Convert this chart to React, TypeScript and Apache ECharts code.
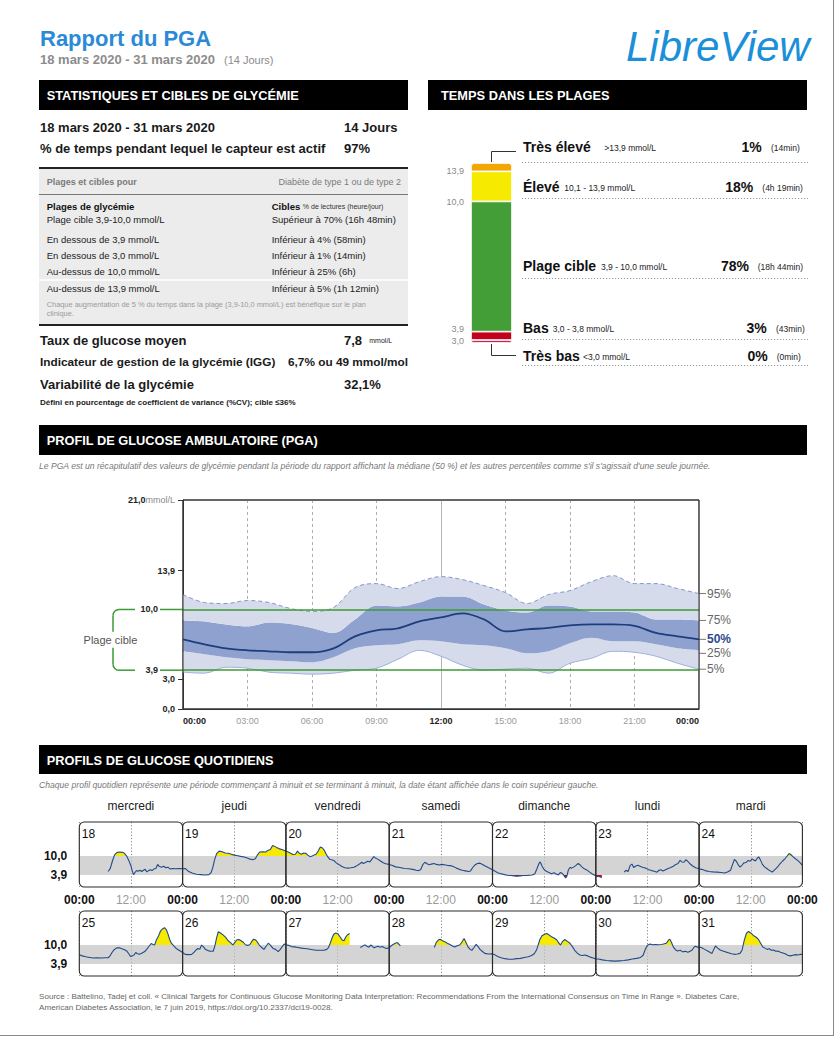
import React, { useEffect, useRef } from 'react';
import * as echarts from 'echarts';

type Pt = [number, number | null];
const FF = '"Liberation Sans", Arial, Helvetica, sans-serif';

// ================= DATA =================
const reportTitle = 'Rapport du PGA';
const reportPeriod = '18 mars 2020 - 31 mars 2020';
const reportDays = '14 Jours';
const sensorActive = '97%';

const statRows: [string, string][] = [
  ['Plage cible 3,9-10,0 mmol/L', 'Supérieur à 70% (16h 48min)'],
  ['En dessous de 3,9 mmol/L', 'Inférieur à 4% (58min)'],
  ['En dessous de 3,0 mmol/L', 'Inférieur à 1% (14min)'],
  ['Au-dessus de 10,0 mmol/L', 'Inférieur à 25% (6h)'],
  ['Au-dessus de 13,9 mmol/L', 'Inférieur à 5% (1h 12min)'],
];
const meanGlucose = '7,8';
const gmiValue = '6,7% ou 49 mmol/mol';
const cvValue = '32,1%';

// Time in ranges (bottom -> top)
const tirNames = ['Très bas', 'Bas', 'Plage cible', 'Élevé', 'Très élevé'];
const tirRanges = ['<3,0 mmol/L', '3,0 - 3,8 mmol/L', '3,9 - 10,0 mmol/L', '10,1 - 13,9 mmol/L', '>13,9 mmol/L'];
const tirPercent = [0, 3, 78, 18, 1];
const tirDurations = ['(0min)', '(43min)', '(18h 44min)', '(4h 19min)', '(14min)'];
const tirBounds = ['3,0', '3,9', '10,0', '13,9', ''];

// AGP percentiles (mmol/L) per hour
const agpHours = [0, 1, 2, 3, 4, 5, 6, 7, 8, 9, 10, 11, 12, 13, 14, 15, 16, 17, 18, 19, 20, 21, 22, 23, 24];
const agpP95 = [11.5, 10.7, 10.6, 10.9, 10.7, 10.1, 9.8, 10.2, 12.2, 12.6, 12.1, 12.8, 13.3, 13.0, 12.4, 11.7, 10.6, 11.5, 11.9, 12.8, 13.4, 12.6, 12.6, 12.1, 11.6];
const agpP75 = [8.9, 8.8, 8.5, 8.3, 8.7, 8.55, 8.15, 7.65, 9.0, 10.4, 10.3, 10.7, 11.3, 11.3, 10.5, 9.9, 9.7, 10.4, 10.3, 9.8, 9.8, 9.7, 9.0, 9.0, 8.9];
const agpP50 = [7.0, 6.5, 6.1, 5.9, 5.8, 5.7, 5.7, 6.1, 7.3, 7.9, 8.1, 8.8, 9.2, 9.6, 9.0, 7.8, 8.0, 8.15, 8.4, 8.5, 8.5, 8.35, 7.65, 7.3, 7.0];
const agpP25 = [5.8, 5.5, 5.2, 5.0, 4.9, 4.8, 4.7, 5.2, 6.1, 6.4, 6.5, 6.9, 6.8, 6.5, 6.4, 6.1, 5.6, 5.8, 6.6, 7.15, 6.8, 6.8, 6.5, 6.1, 5.9];
const agpP5 = [3.7, 3.6, 4.2, 4.1, 3.7, 3.6, 3.5, 3.6, 3.9, 4.1, 5.0, 5.9, 5.3, 4.4, 3.9, 4.0, 4.1, 3.6, 4.6, 5.1, 5.8, 5.7, 5.3, 4.6, 4.0];
const agpYTicks = [0, 3, 13.9, 21];
const targetLow = 3.9;
const targetHigh = 10;
const yMax = 21;

// Daily profiles
const weekDayNames = ['mercredi', 'jeudi', 'vendredi', 'samedi', 'dimanche', 'lundi', 'mardi'];
const dayNumbers1 = ['18', '19', '20', '21', '22', '23', '24'];
const dayNumbers2 = ['25', '26', '27', '28', '29', '30', '31'];

const day18: Pt[] = [[6.7, 5.0], [7.2, 6.0], [7.7, 8.4], [8.2, 10.4], [8.7, 11.1], [9.3, 11.3], [10.0, 11.2], [10.5, 10.9], [11.0, 10.0], [11.5, 8.6], [12.0, 6.8], [12.3, 5.2], [12.6, 4.0], [12.9, 4.6], [13.3, 5.3], [13.7, 5.1], [14.1, 5.4], [14.5, 5.0], [14.9, 5.4], [15.3, 5.7], [15.7, 4.9], [16.1, 5.3], [16.5, 5.6], [16.9, 5.3], [17.3, 5.8], [17.8, 6.0], [18.2, 7.3], [18.6, 6.6], [19.1, 6.4], [19.6, 6.7], [20.1, 6.2], [20.6, 6.4], [21.1, 5.8], [21.6, 6.0], [22.3, 5.9], [23.2, 6.0], [24, 5.9]];
const day19: Pt[] = [[0, 5.9], [0.6, 6.0], [1.3, 5.1], [2.2, 4.5], [3.2, 4.1], [4.2, 4.0], [5.2, 3.9], [6.1, 4.0], [6.6, 4.6], [7.0, 6.2], [7.4, 8.6], [7.9, 10.8], [8.5, 11.6], [9.2, 11.4], [9.9, 11.0], [10.6, 10.9], [11.3, 10.6], [12, 10.3], [12.8, 10.1], [13.5, 9.9], [14.3, 9.7], [15.0, 9.4], [15.7, 9.0], [16.3, 8.8], [16.9, 9.1], [17.4, 10.4], [17.9, 11.3], [18.6, 11.4], [19.3, 11.3], [19.9, 11.9], [20.4, 12.1], [20.9, 13.4], [21.3, 13.2], [21.8, 12.8], [22.4, 12.4], [23.2, 12.0], [24, 11.6]];
const day20: Pt[] = [[0, 11.6], [0.4, 11.4], [1.0, 11.0], [1.6, 10.5], [2.2, 10.6], [2.7, 11.6], [3.1, 10.9], [3.6, 10.6], [4.1, 11.0], [4.6, 10.9], [5.1, 10.3], [5.6, 9.8], [6.1, 10.0], [6.5, 10.3], [7.0, 10.6], [7.5, 11.6], [8.0, 12.9], [8.5, 12.6], [8.9, 11.9], [9.3, 10.8], [9.7, 9.8], [10.2, 8.9], [10.7, 8.8], [11.2, 8.5], [11.7, 7.8], [12.3, 7.3], [13.0, 6.6], [13.7, 6.2], [14.4, 6.1], [15.1, 6.2], [15.8, 6.4], [16.5, 6.9], [17.1, 7.4], [17.6, 8.0], [18.0, 7.6], [18.5, 7.9], [19.0, 8.3], [19.5, 8.1], [20.0, 9.0], [20.4, 9.8], [20.8, 9.4], [21.3, 9.0], [21.9, 8.5], [22.5, 7.9], [23.2, 7.5], [24, 7.3]];
const day21: Pt[] = [[0, 7.3], [0.6, 7.0], [1.5, 6.5], [2.5, 6.3], [3.5, 6.0], [4.5, 5.9], [5.5, 5.7], [6.3, 5.4], [6.8, 5.3], [7.3, 5.6], [7.8, 7.2], [8.3, 8.0], [8.8, 7.5], [9.3, 7.2], [9.8, 7.4], [10.4, 7.6], [11.0, 7.3], [11.6, 7.1], [12.2, 7.3], [12.8, 7.2], [13.5, 7.0], [14.2, 6.9], [14.9, 6.6], [15.6, 6.1], [16.3, 5.7], [17.0, 5.4], [17.7, 5.2], [18.4, 5.0], [18.9, 5.2], [19.4, 6.3], [19.9, 7.1], [20.5, 7.6], [21.1, 7.7], [21.7, 7.3], [22.3, 6.8], [23.0, 6.3], [24, 5.6]];
const day22: Pt[] = [[0, 5.6], [0.5, 5.2], [1.2, 4.6], [2.0, 4.3], [2.8, 4.0], [3.5, 3.8], [4.3, 3.7], [5.0, 3.6], [5.7, 3.5], [6.4, 3.6], [7.1, 3.7], [7.8, 3.7], [8.5, 3.8], [9.2, 3.9], [9.8, 4.2], [10.3, 5.8], [10.8, 7.6], [11.1, 8.1], [11.5, 6.8], [11.9, 5.8], [12.5, 5.1], [13.1, 4.7], [13.7, 4.3], [14.3, 4.6], [14.8, 4.2], [15.3, 3.9], [15.8, 4.7], [16.3, 4.3], [16.7, 3.5], [17.0, 2.9], [17.3, 3.6], [17.6, 5.4], [18.0, 6.3], [18.4, 6.1], [18.9, 6.5], [19.4, 7.0], [19.9, 7.6], [20.3, 7.2], [20.7, 6.6], [21.2, 6.0], [21.8, 5.6], [22.5, 4.9], [23.2, 4.2], [24, 3.6]];
const day23: Pt[] = [[0, 3.6], [0.4, 3.4], [0.9, 3.3], [1.4, 3.1], [4, null], [6.6, 4.8], [7.0, 5.4], [7.5, 5.0], [8.0, 7.0], [8.4, 7.4], [8.8, 6.3], [9.3, 6.8], [9.8, 7.0], [10.4, 6.6], [11.0, 6.3], [11.6, 6.1], [12.3, 5.6], [13.0, 5.3], [13.6, 5.1], [14.2, 4.8], [14.7, 5.4], [15.1, 5.6], [15.6, 5.2], [16.2, 5.6], [16.8, 6.0], [17.4, 6.3], [18.0, 6.7], [18.6, 7.3], [19.1, 7.6], [19.6, 8.6], [20.0, 8.1], [20.5, 8.0], [20.9, 8.8], [21.3, 8.4], [21.8, 7.6], [22.5, 6.8], [23.2, 6.2], [24, 5.9]];
const day24: Pt[] = [[0, 5.9], [0.6, 5.7], [1.4, 5.3], [2.3, 5.0], [3.2, 4.9], [4.2, 4.8], [5.1, 4.7], [6.0, 4.5], [6.7, 4.9], [7.3, 5.4], [7.8, 7.4], [8.2, 8.9], [8.6, 8.4], [9.0, 7.4], [9.5, 6.4], [10.0, 7.1], [10.4, 7.8], [10.9, 7.9], [11.4, 8.6], [11.9, 8.3], [12.3, 9.1], [12.7, 8.7], [13.1, 8.4], [13.5, 9.3], [13.9, 9.7], [14.3, 8.6], [14.7, 7.3], [15.2, 6.5], [15.8, 5.9], [16.4, 5.3], [17.0, 4.8], [17.6, 5.6], [18.2, 6.4], [18.8, 7.5], [19.4, 8.4], [20.0, 9.2], [20.5, 10.1], [20.9, 10.8], [21.3, 10.5], [21.8, 9.8], [22.3, 9.2], [22.9, 8.6], [23.5, 7.8], [24, 7.0]];
const day25: Pt[] = [[0, 6.9], [0.7, 6.5], [1.5, 6.2], [2.4, 6.0], [3.3, 5.8], [4.2, 5.9], [5.1, 5.8], [6.0, 5.9], [6.7, 5.9], [7.2, 6.6], [7.6, 7.6], [8.1, 8.5], [8.7, 9.1], [9.3, 9.1], [9.9, 8.8], [10.5, 8.5], [11.0, 8.1], [11.5, 7.2], [11.9, 6.3], [12.3, 6.5], [12.7, 6.8], [13.1, 7.6], [13.5, 7.2], [14.0, 7.0], [14.6, 7.4], [15.2, 7.9], [15.7, 8.7], [16.2, 9.6], [16.7, 10.5], [17.1, 10.2], [17.5, 10.0], [17.9, 11.6], [18.4, 12.9], [18.9, 14.6], [19.4, 15.3], [19.8, 15.6], [20.2, 15.0], [20.6, 13.6], [21.0, 11.8], [21.4, 10.6], [21.9, 9.8], [22.5, 8.9], [23.2, 8.3], [24, 7.6]];
const day26: Pt[] = [[0, 7.6], [0.6, 7.0], [1.3, 6.9], [2.1, 7.0], [2.7, 7.7], [3.1, 8.4], [3.6, 8.9], [4.0, 8.6], [4.4, 10.0], [4.8, 9.5], [5.3, 8.6], [5.9, 8.2], [6.5, 8.0], [7.1, 8.0], [7.5, 9.7], [7.9, 12.3], [8.3, 14.3], [8.8, 13.9], [9.4, 13.3], [10.0, 12.5], [10.6, 11.4], [11.2, 10.7], [11.7, 10.0], [12.1, 10.8], [12.6, 11.7], [13.1, 11.8], [13.6, 11.4], [14.1, 10.9], [14.6, 10.1], [15.1, 9.9], [15.6, 10.1], [16.0, 11.0], [16.5, 11.9], [17.0, 11.6], [17.4, 10.9], [17.8, 10.0], [18.3, 9.3], [18.9, 8.6], [19.4, 9.6], [19.9, 10.6], [20.4, 10.0], [21.0, 8.9], [21.6, 8.6], [22.2, 7.9], [22.7, 8.6], [23.2, 9.6], [23.6, 10.3], [24, 10.1]];
const day27: Pt[] = [[0, 10.1], [0.6, 9.9], [1.3, 9.5], [2.0, 9.4], [2.8, 9.2], [3.6, 9.0], [4.4, 8.9], [5.3, 8.7], [6.2, 8.5], [7.1, 8.3], [8.0, 8.3], [8.8, 8.3], [9.5, 8.6], [9.9, 9.2], [10.3, 10.6], [10.7, 12.2], [11.1, 13.5], [11.6, 13.9], [12.1, 13.6], [12.6, 12.6], [13.1, 11.6], [13.5, 11.4], [13.9, 12.6], [14.3, 13.3], [14.8, 13.7], [16, null], [17.3, 9.2], [17.7, 9.5], [18.1, 9.9], [18.5, 10.0], [18.9, 9.5], [19.3, 9.3], [19.7, 10.0], [20.1, 9.6], [20.5, 9.1], [20.9, 9.4], [21.4, 9.6], [21.9, 9.3], [22.4, 9.5], [22.9, 9.1], [23.4, 8.9], [24, 9.1]];
const day28: Pt[] = [[0, 9.1], [0.4, 9.7], [0.9, 10.2], [1.4, 10.6], [1.9, 10.8], [2.3, 10.2], [2.6, 9.7], [6, null], [10.5, 9.2], [10.9, 10.8], [11.4, 11.6], [11.8, 11.9], [12.4, 11.4], [12.9, 11.1], [13.5, 10.6], [14.1, 10.2], [14.7, 9.7], [15.2, 9.4], [15.8, 9.8], [16.4, 10.0], [16.9, 11.0], [17.4, 12.1], [17.8, 11.0], [18.3, 9.4], [18.8, 8.6], [19.2, 8.3], [19.7, 9.2], [20.2, 10.2], [20.6, 9.6], [21.1, 8.6], [21.6, 8.0], [22.2, 7.3], [23.0, 7.1], [24, 7.2]];
const day29: Pt[] = [[0, 7.2], [0.5, 6.9], [1.2, 6.3], [2.0, 5.9], [2.9, 5.6], [3.8, 5.4], [4.7, 5.4], [5.6, 5.6], [6.5, 5.7], [7.4, 6.0], [8.3, 6.2], [9.1, 6.6], [9.7, 7.2], [10.2, 8.3], [10.6, 10.0], [11.0, 11.8], [11.5, 13.0], [12.0, 13.4], [12.6, 13.7], [13.1, 13.3], [13.7, 12.7], [14.3, 12.3], [14.9, 11.7], [15.4, 10.7], [15.8, 10.0], [16.3, 11.2], [16.8, 11.8], [17.4, 11.2], [18.0, 10.6], [18.6, 9.4], [19.1, 8.3], [19.7, 7.4], [20.3, 6.8], [20.9, 6.6], [21.5, 6.8], [22.1, 6.5], [22.7, 6.1], [23.4, 5.8], [24, 5.5]];
const day30: Pt[] = [[0, 5.5], [0.6, 5.5], [1.5, 5.2], [2.5, 5.0], [3.5, 4.9], [4.5, 4.8], [5.5, 4.9], [6.5, 5.0], [7.5, 5.2], [8.5, 5.5], [9.5, 5.7], [10.4, 6.0], [11.0, 6.7], [11.5, 8.6], [12.0, 9.9], [12.6, 10.3], [13.2, 10.1], [13.9, 10.2], [14.6, 10.1], [15.3, 10.2], [15.9, 10.4], [16.4, 10.6], [16.9, 11.6], [17.2, 11.9], [17.6, 10.8], [18.0, 9.4], [18.5, 8.5], [19.0, 8.1], [19.6, 8.3], [20.2, 7.8], [20.8, 8.0], [21.4, 7.7], [21.9, 8.0], [22.4, 8.4], [22.8, 9.3], [23.2, 9.6], [23.6, 9.3], [24, 9.4]];
const day31: Pt[] = [[0, 9.4], [0.6, 9.1], [1.3, 8.6], [2.0, 8.1], [2.6, 7.6], [3.0, 7.3], [3.4, 8.6], [3.8, 9.7], [4.3, 9.0], [4.9, 8.4], [5.5, 8.1], [6.1, 7.8], [6.8, 7.5], [7.5, 7.2], [8.2, 7.0], [8.9, 7.1], [9.5, 7.3], [10.0, 8.4], [10.5, 11.6], [11.0, 13.8], [11.5, 14.4], [12.0, 13.9], [12.6, 13.1], [13.2, 12.6], [13.8, 11.8], [14.3, 10.6], [14.8, 9.4], [15.3, 9.0], [15.8, 8.6], [16.3, 8.8], [16.8, 8.3], [17.3, 8.4], [17.8, 8.0], [18.3, 8.1], [18.9, 7.7], [19.5, 7.4], [20.1, 7.1], [20.6, 6.7], [21.2, 6.5], [21.8, 6.7], [22.4, 6.9], [23.0, 6.8], [23.6, 7.0], [24, 7.0]];
const dayRow1 = [day18, day19, day20, day21, day22, day23, day24];
const dayRow2 = [day25, day26, day27, day28, day29, day30, day31];

// ================= LAYOUT / STYLE =================
const AGP = { left: 183, top: 500, width: 516, height: 209 };
const TIRG = { left: 471, top: 163, width: 41, height: 180 };
const TIR_MIN_NONZERO = 5;
const TIR_MIN_ZERO = 1.8;
const tirColors = ['#c8264e', '#c4001c', '#449e38', '#f5ea00', '#f3a600'];
const tirLabelDy = [1, -3, 1, 0, 0];
const tirRowY = [356, 328.3, 266, 187.3, 147.3];
const tirRangeX = [583, 552.7, 601, 564.3, 604.3];
const tirPctRight = [767.7, 766.7, 749, 753.3, 761.7];
const tirDurX = [776.7, 776, 757.7, 762.3, 771];
const tirDotY = [365.5, 339.5, 278.5, 198.5, 162.5];
const statRowY = [219.3, 239, 255, 271.7, 288.3];
const PANEL_X0 = 79.3;
const PANEL_W = 103.3;
const ROW_TOPS = [822, 911];
const ROW_H = 65;
const AGP_LIGHT = '#d6dbeb';
const AGP_DARK = '#8fa2cf';

const fmt = (v: number) => v.toFixed(1).replace('.', ',');
const hh = (v: number) => `${String(v % 24).padStart(2, '0')}:00`;

function T(x: number, y: number, text: string, size: number, o: any = {}) {
  const align = o.align || 'left';
  return {
    type: 'text', x, y, silent: true, z: o.z ?? 50,
    style: {
      text, fill: o.color || '#1a1a1a', fontSize: size,
      fontWeight: o.bold ? 'bold' : 'normal',
      fontStyle: o.italic ? 'italic' : 'normal',
      fontFamily: o.family || FF,
      align, verticalAlign: 'middle', textAlign: align, textVerticalAlign: 'middle',
      rich: o.rich,
    },
  };
}
function L(x1: number, y1: number, x2: number, y2: number, color = '#333', w = 1, dash?: number[], z = 50) {
  return { type: 'line', silent: true, z, shape: { x1, y1, x2, y2 }, style: { stroke: color, lineWidth: w, lineDash: dash } };
}
function R(x: number, y: number, w: number, h: number, fill: string, o: any = {}) {
  return { type: 'rect', silent: true, z: o.z ?? 40, shape: { x, y, width: w, height: h, r: o.r || 0 }, style: { fill, stroke: o.stroke, lineWidth: o.lw } };
}

function buildStatic(): any[] {
  const g: any[] = [];
  g.push(L(833.5, 0, 833.5, 1036, '#8a8a8a', 1));
  g.push(L(0, 1035.5, 834, 1035.5, '#8a8a8a', 1));
  g.push(T(40, 38.5, reportTitle, 22, { bold: true, color: '#2b8ad6' }));
  g.push(T(40, 59.5, reportPeriod, 13, { bold: true, color: '#8c8c8c' }));
  g.push(T(224, 60, '(14 Jours)', 11, { color: '#8c8c8c' }));
  g.push(T(626, 46, 'LibreView', 42, { italic: true, color: '#1b8fd8' }));

  g.push(R(39, 80, 369, 30, '#000'));
  g.push(T(46.7, 95.5, 'STATISTIQUES ET CIBLES DE GLYCÉMIE', 12.8, { bold: true, color: '#fff' }));
  g.push(R(428, 80, 379, 30, '#000'));
  g.push(T(441, 95.5, 'TEMPS DANS LES PLAGES', 12.8, { bold: true, color: '#fff' }));
  g.push(R(39, 425, 768, 30, '#000'));
  g.push(T(46.7, 440.5, 'PROFIL DE GLUCOSE AMBULATOIRE (PGA)', 12.8, { bold: true, color: '#fff' }));
  g.push(R(39, 745, 768, 29, '#000'));
  g.push(T(46.7, 760, 'PROFILS DE GLUCOSE QUOTIDIENS', 12.8, { bold: true, color: '#fff' }));

  g.push(T(40, 127, reportPeriod, 13, { bold: true }));
  g.push(T(344, 127, reportDays, 13, { bold: true }));
  g.push(T(40, 148.5, '% de temps pendant lequel le capteur est actif', 13, { bold: true }));
  g.push(T(344, 148.5, sensorActive, 13, { bold: true }));
  g.push(R(39, 167, 369, 158, '#ececec'));
  g.push(L(39, 168, 408, 168, '#222', 2));
  g.push(L(39, 194.5, 408, 194.5, '#777', 1));
  g.push(L(39, 280, 408, 280, '#ffffff', 1.5));
  g.push(L(39, 325, 408, 325, '#222', 2));
  g.push(T(46.7, 182.3, 'Plages et cibles pour', 9, { bold: true, color: '#7a7a7a' }));
  g.push(T(401, 182.3, 'Diabète de type 1 ou de type 2', 9, { color: '#7a7a7a', align: 'right' }));
  g.push(T(46.7, 206.5, 'Plages de glycémie', 9.5, { bold: true, color: '#111' }));
  g.push(T(271.7, 206.5, '{b|Cibles} {s|% de lectures (heure/jour)}', 9.5, {
    rich: { b: { fontWeight: 'bold', fontSize: 9.5, fontFamily: FF, fill: '#111' }, s: { fontSize: 7, fontFamily: FF, fill: '#333' } },
  }));
  statRows.forEach(([a, b], i) => {
    g.push(T(46.7, statRowY[i], a, 9.5, { color: '#222' }));
    g.push(T(271.7, statRowY[i], b, 9.5, { color: '#222' }));
  });
  g.push(T(46.7, 304.3, 'Chaque augmentation de 5 % du temps dans la plage (3,9-10,0 mmol/L) est bénéfique sur le plan', 7.4, { color: '#9a9a9a' }));
  g.push(T(46.7, 313.5, 'clinique.', 7.4, { color: '#9a9a9a' }));
  g.push(T(40, 340, 'Taux de glucose moyen', 13, { bold: true }));
  g.push(T(344, 340, `{v|${meanGlucose}}  {u|mmol/L}`, 13, {
    rich: { v: { fontWeight: 'bold', fontSize: 13, fontFamily: FF }, u: { fontSize: 7, fontFamily: FF } },
  }));
  g.push(T(40, 362, 'Indicateur de gestion de la glycémie (IGG)', 11.8, { bold: true }));
  g.push(T(408, 362, gmiValue, 11.8, { bold: true, align: 'right' }));
  g.push(T(40, 384, 'Variabilité de la glycémie', 13, { bold: true }));
  g.push(T(344, 384, cvValue, 13, { bold: true }));
  g.push(T(40, 402.5, 'Défini en pourcentage de coefficient de variance (%CV); cible ≤36%', 8, { bold: true }));

  tirNames.forEach((n, i) => {
    const y = tirRowY[i];
    g.push(T(523, y, n, 14, { bold: true, color: '#111' }));
    g.push(T(tirRangeX[i], y + 1, tirRanges[i], 8.5, { color: '#222' }));
    g.push(T(tirPctRight[i], y, `${tirPercent[i]}%`, 14, { bold: true, color: '#111', align: 'right' }));
    g.push(T(tirDurX[i], y + 1, tirDurations[i], 8.5, { color: '#222' }));
    g.push(L(522, tirDotY[i], 808, tirDotY[i], '#9a9a9a', 1, [1.2, 1.8]));
  });
  g.push({ type: 'polyline', silent: true, z: 50, shape: { points: [[491.5, 162], [491.5, 151.5], [516, 151.5]] }, style: { stroke: '#333', lineWidth: 1, fill: null } });
  g.push({ type: 'polyline', silent: true, z: 50, shape: { points: [[491.5, 344], [491.5, 355.5], [516, 355.5]] }, style: { stroke: '#333', lineWidth: 1, fill: null } });

  g.push(T(39, 466, "Le PGA est un récapitulatif des valeurs de glycémie pendant la période du rapport affichant la médiane (50 %) et les autres percentiles comme s'il s'agissait d'une seule journée.", 8.6, { italic: true, color: '#777' }));
  g.push({ type: 'rect', silent: true, z: 100, shape: { x: AGP.left, y: AGP.top, width: AGP.width, height: AGP.height }, style: { fill: null, stroke: '#333', lineWidth: 1 } });

  g.push(T(39, 784.5, 'Chaque profil quotidien représente une période commençant à minuit et se terminant à minuit, la date étant affichée dans le coin supérieur gauche.', 8.6, { italic: true, color: '#777' }));
  weekDayNames.forEach((d, i) => g.push(T(PANEL_X0 + PANEL_W * (i + 0.5), 806, d, 12, { color: '#222', align: 'center' })));
  [dayNumbers1, dayNumbers2].forEach((nums, r) => {
    nums.forEach((n, i) => {
      const x = PANEL_X0 + PANEL_W * i;
      g.push({ type: 'rect', silent: true, z: 100, shape: { x, y: ROW_TOPS[r], width: PANEL_W, height: ROW_H, r: 5 }, style: { fill: null, stroke: '#2a2a2a', lineWidth: 1.1 } });
      g.push(T(x + 2.5, ROW_TOPS[r] + 12, n, 12, { color: '#111', z: 101 }));
    });
  });

  g.push(T(39, 996.5, 'Source : Battelino, Tadej et coll. « Clinical Targets for Continuous Glucose Monitoring Data Interpretation: Recommendations From the International Consensus on Time in Range ». Diabetes Care,', 8.1, { color: '#666' }));
  g.push(T(39, 1007.5, 'American Diabetes Association, le 7 juin 2019, https://doi.org/10.2337/dci19-0028.', 8.1, { color: '#666' }));
  return g;
}

const diff = (a: number[], b: number[]) => a.map((v, i) => +(v - b[i]).toFixed(3));
const rowData = (days: Pt[][]) => {
  const out: any[] = [];
  days.forEach((pts, i) => pts.forEach(([h, v]) => out.push([h + 24 * i, v === null ? '-' : v])));
  return out;
};
const tirDisplay = tirPercent.map((p) => (p === 0 ? TIR_MIN_ZERO : Math.max(p, TIR_MIN_NONZERO)));

function buildOption(): any {
  const hourCats = agpHours.map(hh);
  const grid: any[] = [
    { left: AGP.left, top: AGP.top, width: AGP.width, height: AGP.height, show: true, borderColor: '#333', borderWidth: 1, backgroundColor: 'rgba(0,0,0,0)' },
    { left: TIRG.left, top: TIRG.top, width: TIRG.width, height: TIRG.height },
  ];
  const xAxis: any[] = [
    {
      type: 'category', gridIndex: 0, data: hourCats, boundaryGap: false,
      axisLine: { show: true, lineStyle: { color: '#333' } }, axisTick: { show: false },
      splitLine: { show: true, interval: 2, lineStyle: { color: '#9a9a9a', type: [3, 3], width: 0.8 } },
      axisLabel: {
        interval: 2, margin: 7, alignMinLabel: 'left', alignMaxLabel: 'right',
        formatter: (v: string, i: number) => (i % 12 === 0 ? `{b|${v}}` : `{g|${v}}`),
        rich: { b: { fontWeight: 'bold', fontSize: 9, color: '#222', fontFamily: FF }, g: { fontSize: 9, color: '#9a9a9a', fontFamily: FF } },
      },
    },
    {
      type: 'category', gridIndex: 0, data: hourCats, boundaryGap: false, position: 'top',
      axisLine: { show: false }, axisTick: { show: false }, axisLabel: { show: false },
      splitLine: { show: true, interval: 11, lineStyle: { color: '#b5b5b5', width: 1 } },
    },
    { type: 'category', gridIndex: 1, data: [''], show: false },
  ];
  const tirTotal = tirDisplay.reduce((s, p) => s + p, 0);
  const yAxis: any[] = [
    {
      type: 'value', gridIndex: 0, min: 0, max: yMax,
      axisLine: { show: true, lineStyle: { color: '#333' } },
      axisTick: { show: true, customValues: agpYTicks, length: 5, lineStyle: { color: '#333' } },
      splitLine: { show: false },
      axisLabel: {
        customValues: agpYTicks, margin: 8,
        formatter: (v: number) => (v === yMax ? `{b|${fmt(v)}}{u|mmol/L}` : `{b|${fmt(v)}}`),
        rich: { b: { fontWeight: 'bold', fontSize: 9, color: '#222', fontFamily: FF }, u: { fontSize: 9, color: '#8a8a8a', fontFamily: FF } },
      },
    },
    { type: 'value', gridIndex: 1, min: 0, max: tirTotal, show: false },
  ];
  const series: any[] = [];
  const base = { type: 'line', xAxisIndex: 0, yAxisIndex: 0, smooth: 0.35, symbol: 'none', silent: true };
  series.push({ ...base, stack: 'agp', data: agpP5, lineStyle: { width: 0 } });
  series.push({ ...base, stack: 'agp', data: diff(agpP25, agpP5), lineStyle: { width: 0 }, areaStyle: { color: AGP_LIGHT, opacity: 1 } });
  series.push({ ...base, stack: 'agp', data: diff(agpP75, agpP25), lineStyle: { width: 0 }, areaStyle: { color: AGP_DARK, opacity: 1 } });
  series.push({ ...base, stack: 'agp', data: diff(agpP95, agpP75), lineStyle: { width: 0 }, areaStyle: { color: AGP_LIGHT, opacity: 1 } });
  series.push({ ...base, data: agpP95, lineStyle: { color: '#8496cc', width: 1, type: [4, 3] } });
  series.push({ ...base, data: agpP5, lineStyle: { color: '#9fb0dc', width: 1 } });
  series.push({
    ...base, data: agpP50, z: 4, lineStyle: { color: '#1c3e7c', width: 1.8 },
    markLine: {
      silent: true, symbol: ['none', 'none'], label: { show: false },
      lineStyle: { color: '#3d9b35', width: 1.5, type: 'solid' },
      data: [{ yAxis: targetHigh }, { yAxis: targetLow }],
    },
  });

  tirDisplay.forEach((d, i) => {
    series.push({
      type: 'bar', xAxisIndex: 2, yAxisIndex: 1, stack: 'tir', barWidth: '100%', silent: true,
      data: [d],
      itemStyle: { color: tirColors[i], borderColor: '#fff', borderWidth: 0.8, borderRadius: i === 4 ? [3, 3, 0, 0] : i === 0 ? [0, 0, 3, 3] : 0 },
      label: {
        show: !!tirBounds[i], position: [-7, tirLabelDy[i]], formatter: tirBounds[i], align: 'right', verticalAlign: 'middle',
        fontSize: 9, color: '#8a8a8a', fontFamily: FF,
      },
    });
  });

  [dayRow1, dayRow2].forEach((days, r) => {
    const top = ROW_TOPS[r];
    const gi = 2 + 3 * r;
    const xi = 3 + 3 * r;
    const yi = 2 + 3 * r;
    const left = PANEL_X0;
    const width = PANEL_W * 7;
    grid.push({ left, top, width, height: ROW_H });
    grid.push({ left, top, width, height: (ROW_H * (yMax - targetHigh)) / yMax });
    grid.push({ left, top: top + (ROW_H * (yMax - targetLow)) / yMax, width, height: (ROW_H * targetLow) / yMax });
    xAxis.push({
      type: 'value', gridIndex: gi, min: 0, max: 168, interval: 12,
      axisLine: { show: false }, axisTick: { show: false },
      splitLine: { show: true, lineStyle: { color: '#7a7a7a', type: [1.2, 2], width: 0.9 } },
      axisLabel: {
        show: r === 0, margin: 7,
        formatter: (v: number) => (v % 24 === 0 ? `{b|${hh(v)}}` : `{g|${hh(v)}}`),
        rich: { b: { fontWeight: 'bold', fontSize: 12, color: '#111', fontFamily: FF }, g: { fontSize: 12, color: '#9a9a9a', fontFamily: FF } },
      },
    });
    xAxis.push({ type: 'value', gridIndex: gi + 1, min: 0, max: 168, show: false });
    xAxis.push({ type: 'value', gridIndex: gi + 2, min: 0, max: 168, show: false });
    yAxis.push({
      type: 'value', gridIndex: gi, min: 0, max: yMax,
      axisLine: { show: false }, axisTick: { show: false }, splitLine: { show: false },
      axisLabel: { customValues: [targetLow, targetHigh], formatter: (v: number) => fmt(v), fontWeight: 'bold', fontSize: 12, color: '#111', fontFamily: FF, margin: 12 },
    });
    yAxis.push({ type: 'value', gridIndex: gi + 1, min: targetHigh, max: yMax, show: false });
    yAxis.push({ type: 'value', gridIndex: gi + 2, min: 0, max: targetLow, show: false });
    const data = rowData(days);
    const lb = { type: 'line', symbol: 'none', silent: true };
    series.push({ ...lb, xAxisIndex: xi + 1, yAxisIndex: yi + 1, data, lineStyle: { width: 0 }, areaStyle: { color: '#f6ea00', opacity: 1, origin: 'start' }, clip: true });
    series.push({ ...lb, xAxisIndex: xi + 2, yAxisIndex: yi + 2, data, lineStyle: { width: 0 }, areaStyle: { color: '#c4001c', opacity: 1, origin: 'end' }, clip: true });
    series.push({
      ...lb, xAxisIndex: xi, yAxisIndex: yi, data, z: 5, lineStyle: { color: '#1f4a8c', width: 1.1 },
      markArea: { silent: true, itemStyle: { color: '#c4c4c4', opacity: 0.72 }, label: { show: false }, data: [[{ yAxis: targetLow }, { yAxis: targetHigh }]] },
    });
  });

  return { animation: false, backgroundColor: '#fff', grid, xAxis, yAxis, series };
}

export default function App() {
  const ref = useRef<HTMLDivElement>(null);
  useEffect(() => {
    const el = ref.current!;
    const chart = echarts.init(el, null, { renderer: 'svg' });
    chart.setOption(buildOption());
    const py = (v: number) => (chart.convertToPixel({ gridIndex: 0 } as any, [0, v]) as number[])[1];
    const y10 = py(targetHigh);
    const y39 = py(targetLow);
    const dyn: any[] = [];
    const gc = '#3d9b35';
    const bx = 113;
    const rr = 6;
    const midY = (y10 + y39) / 2;
    dyn.push(L(bx + rr, y10, 135, y10, gc, 1.5));
    dyn.push(L(bx + rr, y39, 135, y39, gc, 1.5));
    dyn.push(L(160, y10, AGP.left, y10, gc, 1.5));
    dyn.push(L(160, y39, AGP.left, y39, gc, 1.5));
    dyn.push({ type: 'arc', silent: true, z: 50, shape: { cx: bx + rr, cy: y10 + rr, r: rr, startAngle: Math.PI, endAngle: Math.PI * 1.5, clockwise: true }, style: { stroke: gc, lineWidth: 1.5, fill: null } });
    dyn.push({ type: 'arc', silent: true, z: 50, shape: { cx: bx + rr, cy: y39 - rr, r: rr, startAngle: Math.PI / 2, endAngle: Math.PI, clockwise: true }, style: { stroke: gc, lineWidth: 1.5, fill: null } });
    dyn.push(L(bx, y10 + rr, bx, midY - 8, gc, 1.5));
    dyn.push(L(bx, midY + 8, bx, y39 - rr, gc, 1.5));
    dyn.push(T(110.5, midY, 'Plage cible', 11, { color: '#555', align: 'center', z: 60 }));
    dyn.push(T(158, y10, fmt(targetHigh), 9, { bold: true, color: '#222', align: 'right' }));
    dyn.push(T(158, y39, fmt(targetLow), 9, { bold: true, color: '#222', align: 'right' }));

    const last = agpHours.length - 1;
    const pct = [
      { t: '95%', v: agpP95[last], bold: false },
      { t: '75%', v: agpP75[last], bold: false },
      { t: '50%', v: agpP50[last], bold: true },
      { t: '25%', v: agpP25[last], bold: false },
      { t: '5%', v: agpP5[last], bold: false },
    ];
    let prev = -Infinity;
    pct.forEach((p) => {
      let y = py(p.v);
      if (y < prev + 14) y = prev + 14;
      prev = y;
      dyn.push(L(AGP.left + AGP.width, y, AGP.left + AGP.width + 7, y, '#777', 1));
      dyn.push(T(AGP.left + AGP.width + 8, y, p.t, 12, { bold: p.bold, color: p.bold ? '#2b4b8c' : '#666' }));
    });
    chart.setOption({ graphic: { elements: [...buildStatic(), ...dyn] } });
    return () => chart.dispose();
  }, []);
  return <div ref={ref} style={{ position: 'absolute', left: 0, top: 0, width: 835, height: 1037, background: '#fff' }} />;
}
